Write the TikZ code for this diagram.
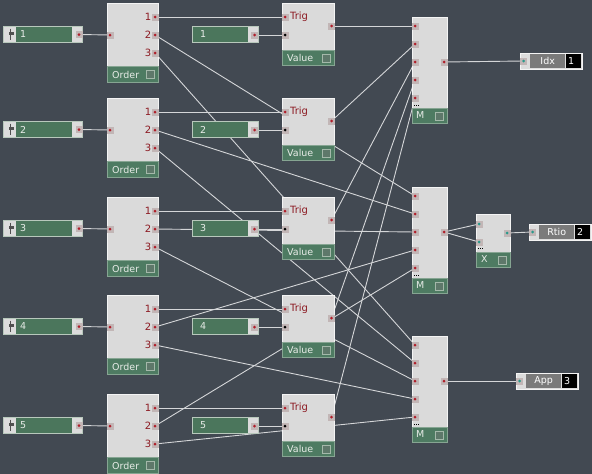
\documentclass[tikz,border=0pt]{standalone}
\usepackage{fontspec}
\setmainfont{DejaVu Sans}
\pgfdeclarelayer{back}
\pgfdeclarelayer{wires}
\pgfsetlayers{back,wires,main}
\definecolor{bgc}{HTML}{424952}
\definecolor{bodyc}{HTML}{DADADA}
\definecolor{bodyedge}{HTML}{F4F4F4}
\definecolor{barc}{HTML}{4E7B62}
\definecolor{baredge}{HTML}{86A592}
\definecolor{knobg}{HTML}{4B765C}
\definecolor{knobedge}{HTML}{B8C8BC}
\definecolor{cellc}{HTML}{DCDCDC}
\definecolor{portc}{HTML}{C2B6B6}
\definecolor{portred}{HTML}{B01E2A}
\definecolor{porttl}{HTML}{2A9A8C}
\definecolor{txtred}{HTML}{8C1A22}
\definecolor{bartxt}{HTML}{E8ECE8}
\definecolor{wirec}{HTML}{D4D6D8}
\definecolor{iconedge}{HTML}{A4B8AA}
\definecolor{iconfill}{HTML}{5E786A}
\definecolor{metgrey}{HTML}{7A7A7A}
\definecolor{darkc}{HTML}{505050}
\begin{document}
\begin{tikzpicture}[x=1pt,y=-1pt,
  every node/.style={font=\fontsize{9.5}{9.5}\selectfont, inner sep=0pt},
  body/.style={draw=bodyedge, fill=bodyc, line width=0.8pt, anchor=north west},
  bar/.style={draw=baredge, fill=barc, line width=0.8pt, anchor=north west},
  knob/.style={draw=knobedge, fill=knobg, line width=0.8pt, anchor=north west},
  cell/.style={fill=cellc, draw=none, anchor=north west},
  port/.style={fill=portc, minimum size=7pt, path picture={\fill[portred] (path picture bounding box.center) circle (1.5pt);}},
  bport/.style={fill=portc, minimum size=7pt, path picture={\fill[black] (path picture bounding box.center) circle (1.5pt);}},
  tport/.style={fill=portc, minimum size=7pt, path picture={\fill[porttl] (path picture bounding box.center) circle (1.5pt);}},
  icon/.style={draw=iconedge, fill=iconfill, line width=0.8pt, minimum size=8pt, anchor=north west},
  bartext/.style={text=bartxt, anchor=west},
  redtext/.style={text=txtred, font=\fontsize{10}{10}\selectfont},
  wire/.style={draw=wirec, line width=0.9pt},
  dots/.style={fill=black}
]
\begin{pgfonlayer}{back}
\fill[bgc] (0,0) rectangle (592,474);
\end{pgfonlayer}
\useasboundingbox (0,0) rectangle (592,474);

\foreach \r/\oy [evaluate=\r as \n using int(\r+1)] in {0/0,1/95,2/194,3/292,4/391}{
  % left knob
  \node[knob, minimum width=79pt, minimum height=16pt] (lk\n) at (3,26+\oy) {};
  \node[cell, minimum width=12pt, minimum height=15pt] (lkc\n) at (3.5,26.5+\oy) {};
  \draw[darkc, line width=1pt] (10.5,28.5+\oy) -- (10.5,39.5+\oy);
  \fill[darkc] (8.5,32+\oy) rectangle (13.5,35+\oy);
  \node[cell, minimum width=10pt, minimum height=15pt] (lkr\n) at (72,26.5+\oy) {};
  \node[bartext] (lkt\n) at (20,34.5+\oy) {\n};
  \node[port] (lkp\n) at (79,34.5+\oy) {};
  % order
  \node[body, minimum width=51pt, minimum height=63pt] (ord\n) at (107,3+\oy) {};
  \node[bar, minimum width=51pt, minimum height=16pt] (ordb\n) at (107,66+\oy) {};
  \node[bartext] (ordl\n) at (112,74.5+\oy) {Order};
  \node[icon] (ordi\n) at (146,70+\oy) {};
  \node[port] (oin\n) at (110,35+\oy) {};
  \node[port] (oa\n) at (155,17+\oy) {};
  \node[port] (ob\n) at (155,35+\oy) {};
  \node[port] (oc\n) at (155,53+\oy) {};
  \node[redtext, anchor=east] (oal\n) at (151.5,17+\oy) {1};
  \node[redtext, anchor=east] (obl\n) at (151.5,35+\oy) {2};
  \node[redtext, anchor=east] (ocl\n) at (151.5,53+\oy) {3};
  % middle knob
  \node[knob, minimum width=66pt, minimum height=16pt] (mk\n) at (192,26+\oy) {};
  \node[cell, minimum width=10pt, minimum height=15pt] (mkr\n) at (248,26.5+\oy) {};
  \node[bartext] (mkt\n) at (200,34.5+\oy) {\n};
  \node[port] (mkp\n) at (254.5,35+\oy) {};
  % value
  \node[body, minimum width=52pt, minimum height=47pt] (val\n) at (282,3+\oy) {};
  \node[bar, minimum width=52pt, minimum height=15pt] (valb\n) at (282,50+\oy) {};
  \node[bartext] (vall\n) at (287,57.5+\oy) {Value};
  \node[icon] (vali\n) at (322,53.5+\oy) {};
  \node[redtext, anchor=west] (vtl\n) at (290,17+\oy) {Trig};
  \node[port] (vtrig\n) at (285,17+\oy) {};
  \node[bport] (vin\n) at (285,35+\oy) {};
  \node[port] (vout\n) at (331.5,26+\oy) {};
}

% M modules
\foreach \m/\t in {1/17,2/187,3/336}{
  \node[body, minimum width=35pt, minimum height=91pt] (mb\m) at (412,\t) {};
  \node[bar, minimum width=35pt, minimum height=15pt] (mbb\m) at (412,\t+91) {};
  \node[bartext] (ml\m) at (416,\t+98.5) {M};
  \node[icon] (mi\m) at (434.5,\t+94.5) {};
  \foreach \k [evaluate=\k as \yy using \t+9+18*(\k-1)] in {1,...,5}{
    \node[port] (mi\m x\k) at (415,\yy) {};
  }
  \node[port] (mo\m) at (444,\t+45) {};
  \foreach \d in {0,2,4}{\fill[dots] (413.5+\d,\t+87.5) rectangle (414.7+\d,\t+88.7);}
}

% X module
\node[body, minimum width=34pt, minimum height=38pt] (xm) at (476,214) {};
\node[bar, minimum width=34pt, minimum height=15pt] (xmb) at (476,252) {};
\node[bartext] (xml) at (481,259.5) {X};
\node[icon] (xmi) at (497.5,255.5) {};
\node[tport] (xa) at (479,224) {};
\node[tport] (xb) at (479,242) {};
\node[tport] (xo) at (507,233) {};
\foreach \d in {0,2,4}{\fill[dots] (477.5+\d,248) rectangle (478.7+\d,249.2);}

% meters
\foreach \nm/\mx/\my/\lab/\val in {idx/520/53/Idx/1, rt/529/224/Rtio/2, ap/516/373/App/3}{
  \node[draw=bodyedge, fill=cellc, line width=0.8pt, minimum width=62pt, minimum height=16pt, anchor=north west] (\nm) at (\mx,\my) {};
  \node[fill=metgrey, minimum width=35pt, minimum height=14pt, anchor=north west] (\nm l) at (\mx+10,\my+1) {};
  \node[text=white] at (\nm l.center) {\lab};
  \node[fill=black, minimum width=15pt, minimum height=14pt, anchor=north west] (\nm v) at (\mx+46,\my+1) {};
  \node[text=white, anchor=west] at ([xshift=2pt]\nm v.west) {\val};
  \node[tport] (\nm p) at (\mx+3.5,\my+8) {};
}

\begin{pgfonlayer}{wires}
\foreach \n in {1,...,5}{
  \draw[wire] (lkp\n.center) -- (oin\n.center);
  \draw[wire] (oa\n.center) -- (vtrig\n.center);
  \draw[wire] (mkp\n.center) -- (vin\n.center);
  \draw[wire] (vout\n.center) -- (mi1x\n.center);
  \draw[wire] (ob\n.center) -- (mi2x\n.center);
  \draw[wire] (oc\n.center) -- (mi3x\n.center);
}
\draw[wire] (mo1.center) -- (idxp.center);
\draw[wire] (mo2.center) -- (xa.center);
\draw[wire] (mo2.center) -- (xb.center);
\draw[wire] (xo.center) -- (rtp.center);
\draw[wire] (mo3.center) -- (app.center);
\end{pgfonlayer}
\end{tikzpicture}
\end{document}
